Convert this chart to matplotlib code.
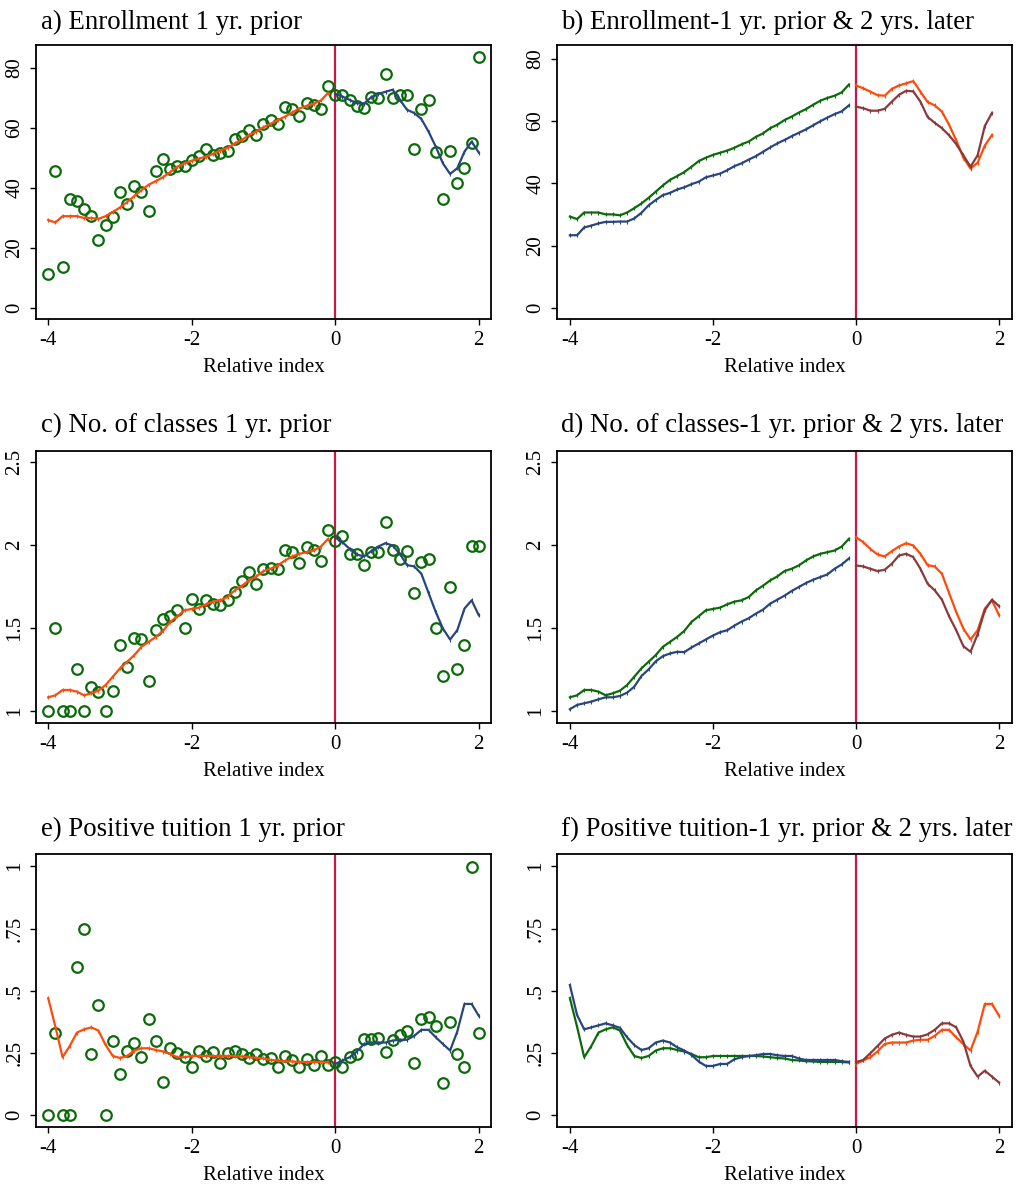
import numpy as np
import matplotlib
matplotlib.use("Agg")
import matplotlib.pyplot as plt

plt.rcParams['font.family'] = ['Liberation Serif', 'DejaVu Serif']

# ---------------- data ----------------
x_pre = np.round(np.arange(-4.0, -0.05, 0.1), 1)      # -4.0 ... -0.1 (40 bins)
x_post = np.round(np.arange(0.0, 2.05, 0.1), 1)       # 0.0 ... 2.0 (21 bins)

# Enrollment (panel a scatter, bin means)
enroll_pts_pre = [11.3, 45.8, 13.7, 36.2, 35.5, 32.9, 30.6, 22.6, 27.5, 30.2,
                  38.7, 34.7, 40.7, 38.7, 32.4, 45.7, 49.8, 46.2, 47.4, 47.4,
                  49.4, 50.7, 53.1, 50.9, 51.6, 52.3, 56.3, 57.2, 59.4, 57.8,
                  61.2, 62.7, 61.4, 67.0, 66.5, 64.1, 68.3, 67.7, 66.3, 74.1]
enroll_pts_post = [71.1, 71.0, 69.4, 67.4, 66.7, 70.3, 69.9, 78.1, 70.1, 71.0,
                   71.0, 53.1, 66.3, 69.4, 52.0, 36.2, 52.5, 41.7, 46.8, 54.9, 83.6]
# smoothed fits, 1 yr prior
enroll_fit1_pre = [29.3, 28.5, 30.6, 30.6, 30.6, 30.0, 30.0, 29.7, 30.6, 32.0,
                   33.5, 35.3, 37.3, 39.3, 41.1, 42.3, 43.6, 45.3, 47.1, 48.2,
                   49.1, 49.8, 50.5, 51.4, 52.5, 53.4, 54.9, 56.0, 57.7, 58.8,
                   60.3, 61.4, 62.7, 63.8, 65.2, 66.5, 67.4, 68.1, 69.2, 71.7]
enroll_fit1_post = [71.4, 70.5, 69.4, 68.3, 68.1, 70.3, 71.4, 72.1, 72.8, 69.4,
                    66.1, 65.0, 63.0, 58.8, 53.8, 48.2, 44.7, 46.6, 52.1, 55.5, 51.8]
# smoothed fits, 2 yrs later
enroll_fit2_pre = [23.3, 23.3, 25.8, 26.4, 27.1, 27.6, 27.6, 27.7, 27.7, 28.7,
                   30.5, 32.9, 34.6, 36.2, 36.9, 38.0, 38.7, 39.7, 40.5, 41.9,
                   42.5, 43.1, 44.2, 45.5, 46.4, 47.6, 48.7, 50.1, 51.5, 52.8,
                   53.9, 55.1, 56.2, 57.3, 58.6, 59.9, 61.1, 62.2, 63.1, 65.0]
enroll_fit2_post = [64.6, 64.1, 63.3, 63.3, 63.9, 66.2, 68.4, 69.7, 69.5, 66.2,
                    61.3, 59.4, 57.7, 55.4, 52.6, 49.0, 45.3, 49.0, 58.4, 62.6]

# Number of classes
class_pts_pre = [1.00, 1.50, 1.00, 1.00, 1.254, 1.00, 1.146, 1.116, 1.00, 1.122,
                 1.398, 1.266, 1.438, 1.432, 1.18, 1.49, 1.556, 1.57, 1.606, 1.50,
                 1.672, 1.612, 1.666, 1.646, 1.636, 1.666, 1.716, 1.78, 1.834, 1.762,
                 1.852, 1.862, 1.852, 1.972, 1.954, 1.89, 1.986, 1.972, 1.902, 2.09]
class_pts_post = [2.026, 2.052, 1.946, 1.946, 1.88, 1.956, 1.956, 2.138, 1.97, 1.914,
                  1.96, 1.71, 1.896, 1.914, 1.50, 1.212, 1.746, 1.254, 1.398, 1.996, 1.996]
class_fit1_pre = [1.082, 1.094, 1.126, 1.126, 1.116, 1.094, 1.106, 1.122, 1.156, 1.206,
                  1.256, 1.296, 1.336, 1.386, 1.416, 1.446, 1.482, 1.536, 1.57, 1.606,
                  1.614, 1.622, 1.642, 1.658, 1.666, 1.686, 1.726, 1.754, 1.786, 1.81,
                  1.842, 1.856, 1.876, 1.906, 1.93, 1.946, 1.956, 1.966, 1.99, 2.036]
class_fit1_post = [2.046, 2.016, 1.976, 1.942, 1.93, 1.962, 1.99, 2.01, 1.996, 1.946,
                   1.878, 1.87, 1.826, 1.71, 1.596, 1.496, 1.43, 1.486, 1.616, 1.666, 1.576]
class_fit2_pre = [1.01, 1.036, 1.046, 1.056, 1.07, 1.082, 1.082, 1.09, 1.11, 1.146,
                  1.21, 1.25, 1.298, 1.33, 1.346, 1.356, 1.354, 1.382, 1.406, 1.43,
                  1.454, 1.474, 1.486, 1.514, 1.538, 1.558, 1.586, 1.61, 1.646, 1.67,
                  1.694, 1.722, 1.746, 1.77, 1.79, 1.806, 1.822, 1.856, 1.882, 1.918]
class_fit2_post = [1.876, 1.87, 1.856, 1.842, 1.85, 1.886, 1.936, 1.946, 1.926, 1.856,
                   1.766, 1.726, 1.67, 1.57, 1.486, 1.39, 1.356, 1.462, 1.606, 1.67, 1.63]

# Positive tuition
tuit_pts_pre = [0.0, 0.332, 0.0, 0.0, 0.597, 0.75, 0.246, 0.443, 0.0, 0.297,
                0.166, 0.26, 0.292, 0.233, 0.386, 0.297, 0.135, 0.269, 0.249, 0.233,
                0.195, 0.26, 0.238, 0.254, 0.209, 0.249, 0.26, 0.246, 0.228, 0.246,
                0.225, 0.229, 0.195, 0.238, 0.222, 0.195, 0.225, 0.202, 0.238, 0.202]
tuit_pts_post = [0.214, 0.195, 0.233, 0.246, 0.305, 0.305, 0.312, 0.256, 0.303, 0.321,
                 0.34, 0.209, 0.386, 0.396, 0.359, 0.131, 0.373, 0.246, 0.195, 0.999, 0.332]
tuit_fit1_pre = [0.47, 0.356, 0.233, 0.278, 0.332, 0.345, 0.353, 0.34, 0.282, 0.238,
                 0.23, 0.238, 0.26, 0.269, 0.269, 0.262, 0.256, 0.246, 0.233, 0.233,
                 0.238, 0.238, 0.238, 0.238, 0.238, 0.238, 0.238, 0.236, 0.233, 0.23,
                 0.228, 0.222, 0.22, 0.217, 0.216, 0.214, 0.214, 0.214, 0.214, 0.212]
tuit_fit1_post = [0.206, 0.22, 0.233, 0.256, 0.286, 0.292, 0.292, 0.292, 0.3, 0.303,
                  0.303, 0.319, 0.343, 0.343, 0.313, 0.286, 0.26, 0.336, 0.447, 0.447, 0.399]
tuit_fit2_pre = [0.523, 0.403, 0.345, 0.353, 0.361, 0.369, 0.361, 0.351, 0.313, 0.282,
                 0.262, 0.269, 0.292, 0.30, 0.292, 0.273, 0.26, 0.242, 0.216, 0.198,
                 0.198, 0.206, 0.206, 0.225, 0.233, 0.238, 0.241, 0.246, 0.246, 0.241,
                 0.238, 0.238, 0.228, 0.222, 0.222, 0.222, 0.222, 0.222, 0.217, 0.214]
tuit_fit2_post = [0.214, 0.222, 0.249, 0.278, 0.308, 0.323, 0.332, 0.323, 0.316, 0.316,
                  0.325, 0.343, 0.369, 0.369, 0.353, 0.296, 0.198, 0.155, 0.179, 0.155, 0.131]

titles = ["a) Enrollment 1 yr. prior",
          "b) Enrollment-1 yr. prior & 2 yrs. later",
          "c) No. of classes 1 yr. prior",
          "d) No. of classes-1 yr. prior & 2 yrs. later",
          "e) Positive tuition 1 yr. prior",
          "f) Positive tuition-1 yr. prior & 2 yrs. later"]
xlabel = "Relative index"
x_ticks = [-4, -2, 0, 2]
x_ticklabels = ["-4", "-2", "0", "2"]
y_ticks_enroll = [0, 20, 40, 60, 80]
y_labels_enroll = ["0", "20", "40", "60", "80"]
y_ticks_class = [1, 1.5, 2, 2.5]
y_labels_class = ["1", "1.5", "2", "2.5"]
y_ticks_tuit = [0, 0.25, 0.5, 0.75, 1]
y_labels_tuit = ["0", ".25", ".5", ".75", "1"]

# ---------------- styling ----------------
C_GREEN = "#0b6b0b"
C_ORANGE = "#ff4a0a"
C_NAVY = "#28467e"
C_MAROON = "#8a3a3c"
C_VLINE = "#c8184a"

W, H = 1017, 1188
fig = plt.figure(figsize=(W / 100, H / 100), dpi=100)

cols = [(36, 491), (557, 1012)]
rows = [(45, 319), (450.7, 722.7), (854.3, 1126.7)]
title_base = [29.3, 432, 836]
title_x = [40.7, 561]


def make_ax(r, c):
    l, rr = cols[c]
    t, b = rows[r]
    ax = fig.add_axes([l / W, 1 - b / H, (rr - l) / W, (b - t) / H])
    for s in ax.spines.values():
        s.set_linewidth(1.3)
        s.set_color("black")
    ax.tick_params(direction="out", length=4.5, width=1.0, labelsize=15,
                   color="black", pad=4)
    ax.set_xticks(x_ticks)
    ax.set_xticklabels(x_ticklabels)
    ax.set_xlabel(xlabel, fontsize=15, labelpad=6)
    ax.axvline(0, color=C_VLINE, lw=1.6, zorder=1)
    fig.text(title_x[c] / W, 1 - title_base[r] / H, titles[r * 2 + c],
             fontsize=19.3, ha="left", va="baseline")
    return ax


def set_y(ax, ticks, labels, lim):
    ax.set_yticks(ticks)
    ax.set_yticklabels(labels, rotation=90, va="center")
    ax.set_ylim(*lim)


def fitline(ax, x, y, color):
    ax.plot(x, y, color=color, lw=1.6, marker="|", ms=3, mew=0.8, zorder=3)


def scatter(ax, x, y):
    ax.plot(x, y, linestyle="none", marker="o", ms=7.6, mfc="none",
            mec=C_GREEN, mew=1.6, zorder=2)


panels = [
    (enroll_pts_pre, enroll_pts_post, enroll_fit1_pre, enroll_fit1_post,
     enroll_fit2_pre, enroll_fit2_post, y_ticks_enroll, y_labels_enroll,
     (-3.7, 87.7), (-3.6, 84.4)),
    (class_pts_pre, class_pts_post, class_fit1_pre, class_fit1_post,
     class_fit2_pre, class_fit2_post, y_ticks_class, y_labels_class,
     (0.929, 2.567), (0.929, 2.567)),
    (tuit_pts_pre, tuit_pts_post, tuit_fit1_pre, tuit_fit1_post,
     tuit_fit2_pre, tuit_fit2_post, y_ticks_tuit, y_labels_tuit,
     (-0.046, 1.048), (-0.046, 1.048)),
]

for r, (pp, pq, f1a, f1b, f2a, f2b, yt, yl, lim_l, lim_r) in enumerate(panels):
    # left panel: bin means + 1-yr-prior fits
    ax = make_ax(r, 0)
    scatter(ax, x_pre, pp)
    scatter(ax, x_post, pq)
    fitline(ax, x_pre, f1a, C_ORANGE)
    fitline(ax, x_post, f1b, C_NAVY)
    ax.set_xlim(-4.17, 2.17)
    set_y(ax, yt, yl, lim_l)

    # right panel: 1-yr-prior vs 2-yrs-later fits
    n_post = len(f2b)
    ax2 = make_ax(r, 1)
    fitline(ax2, x_pre, f1a, C_GREEN)
    fitline(ax2, x_pre, f2a, C_NAVY)
    fitline(ax2, x_post[:n_post], f1b[:n_post], C_ORANGE)
    fitline(ax2, x_post[:n_post], f2b, C_MAROON)
    ax2.set_xlim(-4.18, 2.18)
    set_y(ax2, yt, yl, lim_r)

fig.savefig("out.png", dpi=100, facecolor="white")
